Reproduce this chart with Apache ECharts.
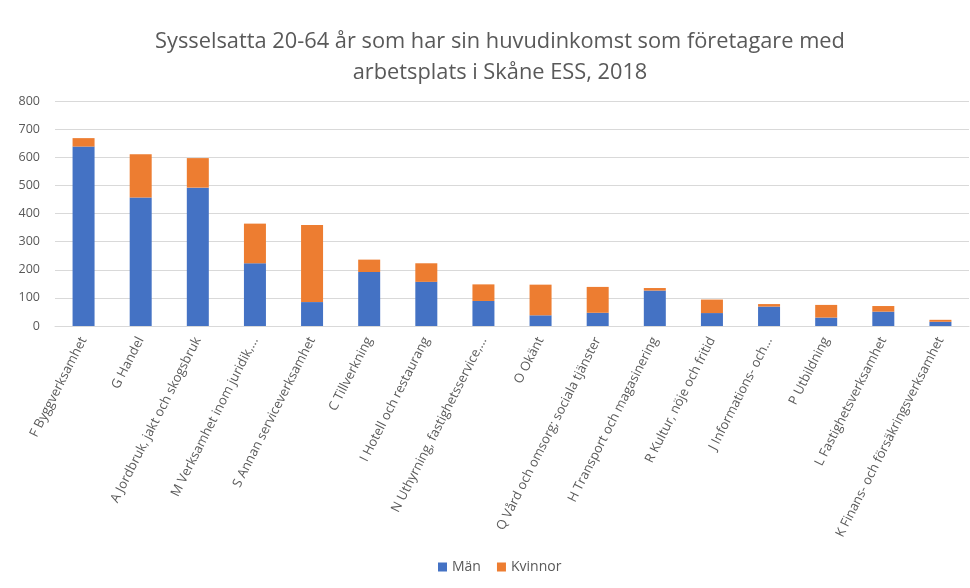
<!DOCTYPE html>
<html>
<head>
<meta charset="utf-8">
<script src="https://cdn.jsdelivr.net/npm/echarts@6/dist/echarts.min.js"></script>
<style>
    html, body { margin: 0; padding: 0; background: #fff; }
    #chart { width: 970px; height: 588px; }
</style>
</head>
<body>
<div id="chart"></div>
<script>
// Branscher (kategorier)
const categories = [
    'F Byggverksamhet',
    'G Handel',
    'A Jordbruk, jakt och skogsbruk',
    'M Verksamhet inom juridik,...',
    'S Annan serviceverksamhet',
    'C Tillverkning',
    'I Hotell och restaurang',
    'N Uthyrning, fastighetsservice,...',
    'O Okänt',
    'Q Vård och omsorg; sociala tjänster',
    'H Transport och magasinering',
    'R Kultur, nöje och fritid',
    'J Informations- och...',
    'P Utbildning',
    'L Fastighetsverksamhet',
    'K Finans- och försäkringsverksamhet'
];

// Antal per kön
const manValues = [638, 457, 492, 223, 85, 192, 157, 89, 38, 47, 126, 46, 69, 30, 51, 15];
const kvinnorValues = [30, 154, 105, 141, 274, 44, 66, 59, 109, 92, 9, 48, 9, 45, 20, 7];

const textColor = '#595959';
const fontFamily = '"Open Sans", "Noto Sans", sans-serif';

const chart = echarts.init(document.getElementById('chart'));

const option = {
    animation: false,
    textStyle: { fontFamily: fontFamily },
    title: {
        text: 'Sysselsatta 20-64 år som har sin huvudinkomst som företagare med\narbetsplats i Skåne ESS, 2018',
        left: 495,
        textAlign: 'center',
        top: 21,
        textStyle: {
            color: textColor,
            fontSize: 21.8,
            fontWeight: 'normal',
            lineHeight: 31,
            fontFamily: fontFamily
        }
    },
    legend: {
        data: ['Män', 'Kvinnor'],
        bottom: 9,
        left: 433,
        itemWidth: 9,
        itemHeight: 9,
        itemGap: 16,
        icon: 'rect',
        textStyle: { color: textColor, fontSize: 14 }
    },
    grid: {
        left: 55,
        right: 1,
        top: 101,
        bottom: 262
    },
    xAxis: {
        type: 'category',
        data: categories,
        axisLine: { show: true, lineStyle: { color: '#d9d9d9' } },
        axisTick: { show: false },
        axisLabel: {
            rotate: 63,
            interval: 0,
            color: textColor,
            fontSize: 13,
            margin: 12
        }
    },
    yAxis: {
        type: 'value',
        min: 0,
        max: 800,
        interval: 100,
        axisLine: { show: false },
        axisTick: { show: false },
        axisLabel: { color: textColor, fontSize: 12.5, margin: 15 },
        splitLine: { lineStyle: { color: '#d9d9d9', width: 1 } }
    },
    series: [
        {
            name: 'Män',
            type: 'bar',
            stack: 'total',
            barWidth: 22,
            data: manValues,
            itemStyle: { color: '#4472C4' }
        },
        {
            name: 'Kvinnor',
            type: 'bar',
            stack: 'total',
            barWidth: 22,
            data: kvinnorValues,
            itemStyle: { color: '#ED7D31' }
        }
    ]
};

chart.setOption(option);
</script>
</body>
</html>
